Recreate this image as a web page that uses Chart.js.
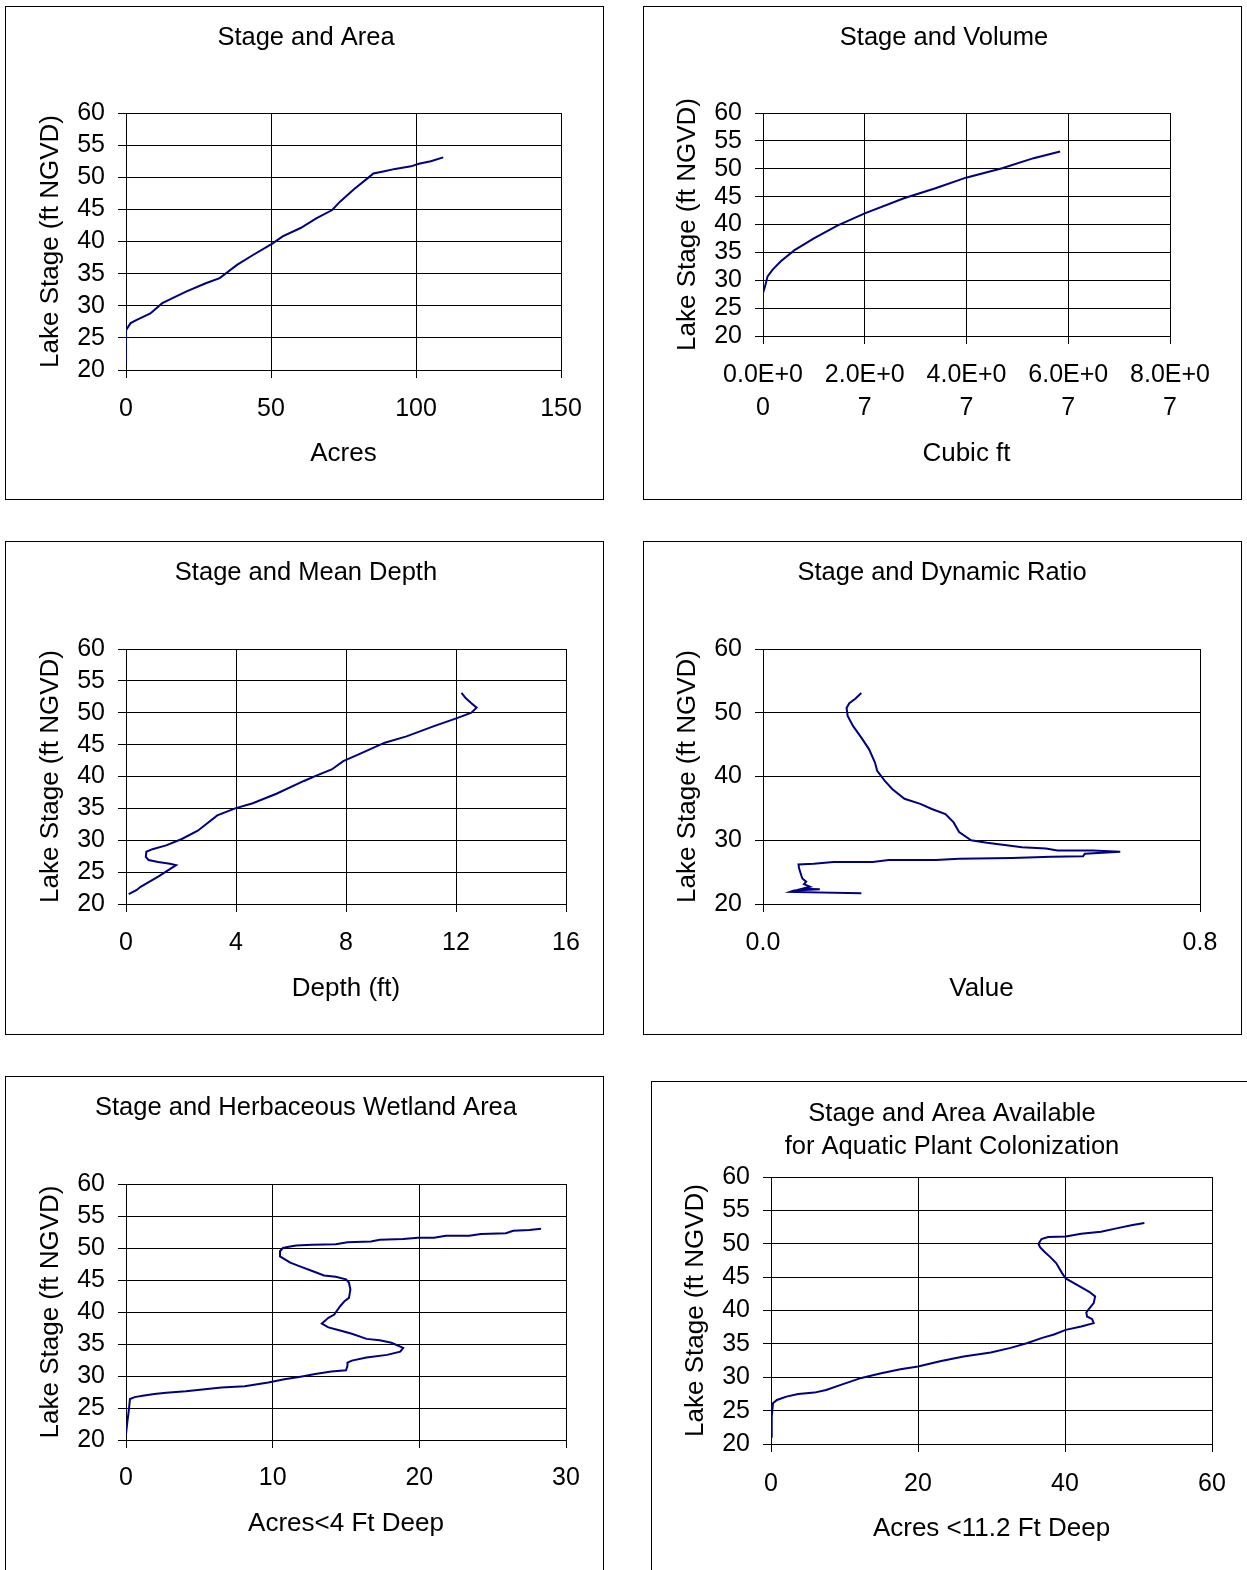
<!DOCTYPE html>
<html>
<head>
<meta charset="utf-8">
<title>Lake Stage Charts</title>
<script src="https://cdn.jsdelivr.net/npm/chart.js@4.4.1/dist/chart.umd.min.js"></script>
<style>
    html, body { margin: 0; padding: 0; background: #fff; overflow: hidden; }
    body { position: relative; width: 1247px; height: 1570px; }
    .panel { position: absolute; box-sizing: border-box; border: 1px solid #000; }
    canvas { position: absolute; }
</style>
</head>
<body>
<div class="panel" id="b1"></div><canvas id="c1"></canvas>
<div class="panel" id="b2"></div><canvas id="c2"></canvas>
<div class="panel" id="b3"></div><canvas id="c3"></canvas>
<div class="panel" id="b4"></div><canvas id="c4"></canvas>
<div class="panel" id="b5"></div><canvas id="c5"></canvas>
<div class="panel" id="b6"></div><canvas id="c6"></canvas>
<script>
// ───────── data ─────────

// Stage and Area
const areaStage = [21.0, 26.2, 27.3, 27.8, 28.8, 30.4, 32.2, 33.5, 34.3, 36.4, 37.9, 39.7, 40.8, 42.1, 43.6, 44.9, 46.2, 48.1, 50.1, 50.6, 50.9, 51.3, 51.7, 52.1, 52.5, 53.1];
const areaAcres = [0, 0, 1.6, 3.7, 8.4, 12.5, 20.7, 27.5, 32.3, 38.4, 43.8, 50.6, 54.0, 60.2, 65.6, 71.1, 73.8, 78.5, 84.0, 85.3, 88.7, 92.8, 98.3, 101.0, 105.1, 109.4];

// Stage and Volume
const volumeStage = [21.1, 27.7, 28.9, 30.7, 31.9, 33.4, 35.4, 37.5, 39.8, 42.0, 44.7, 46.5, 48.4, 50.1, 51.9, 53.1];
const volumeCuft = [0, 0, 4.0e5, 9.0e5, 1.9e6, 3.5e6, 6.2e6, 1.0e7, 1.46e7, 2.0e7, 2.77e7, 3.39e7, 3.99e7, 4.70e7, 5.32e7, 5.84e7];

// Stage and Mean Depth
const depthStage = [21.55, 22.2, 22.7, 24.3, 26.1, 26.3, 26.6, 26.9, 27.4, 28.2, 28.6, 29.2, 30.2, 31.5, 33.9, 35.0, 35.8, 37.3, 39.3, 40.1, 41.1, 42.4, 43.5, 45.3, 46.3, 47.9, 49.2, 50.0, 50.8, 51.5, 52.3, 53.1];
const depthFt = [0.1, 0.39, 0.53, 1.17, 1.82, 1.6, 1.17, 0.82, 0.72, 0.74, 0.96, 1.46, 2.03, 2.61, 3.32, 3.97, 4.61, 5.47, 6.47, 6.9, 7.48, 7.9, 8.48, 9.41, 10.2, 11.2, 12.06, 12.56, 12.75, 12.56, 12.35, 12.2];

// Stage and Dynamic Ratio
const ratioStage = [21.7, 21.9, 22.1, 22.3, 22.4, 22.7, 23.1, 23.5, 24.0, 24.5, 25.6, 26.2, 26.3, 26.6, 26.6, 26.9, 26.9, 27.1, 27.2, 27.4, 27.5, 27.9, 28.2, 28.4, 28.4, 28.7, 28.9, 29.2, 29.6, 30.0, 31.3, 32.8, 34.1, 34.9, 35.7, 36.5, 38.0, 39.3, 40.9, 42.2, 44.3, 46.1, 47.9, 49.5, 50.75, 51.5, 52.2, 53.1];
const ratioValue = [0.18, 0.05, 0.057, 0.104, 0.072, 0.086, 0.075, 0.079, 0.072, 0.07, 0.066, 0.065, 0.093, 0.129, 0.201, 0.23, 0.316, 0.359, 0.456, 0.528, 0.586, 0.589, 0.654, 0.604, 0.539, 0.518, 0.474, 0.446, 0.410, 0.381, 0.359, 0.349, 0.334, 0.309, 0.288, 0.259, 0.237, 0.223, 0.209, 0.205, 0.194, 0.18, 0.165, 0.155, 0.153, 0.158, 0.169, 0.18];

// Stage and Herbaceous Wetland Area
const herbStage = [20.9, 23.0, 24.6, 26.4, 26.7, 26.9, 27.2, 27.4, 27.6, 27.8, 28.2, 28.4, 29.0, 29.5, 29.9, 30.3, 30.7, 30.9, 31.6, 32.1, 32.4, 32.9, 33.3, 33.8, 34.4, 35.2, 35.6, 35.8, 36.6, 37.1, 37.6, 38.2, 39.1, 39.6, 40.9, 41.7, 42.2, 43.5, 44.6, 45.1, 45.5, 45.7, 46.4, 47.1, 47.7, 48.7, 49.5, 50.0, 50.2, 50.4, 50.5, 50.6, 50.9, 51.0, 51.3, 51.4, 51.6, 51.6, 51.9, 51.9, 52.2, 52.3, 52.7, 52.8, 53.0];
const herbAcres = [0, 0.1, 0.19, 0.27, 0.59, 1.13, 1.93, 2.74, 4.08, 4.89, 6.5, 8.1, 9.7, 10.8, 11.9, 12.9, 14.0, 15.0, 15.1, 15.1, 15.4, 16.4, 17.8, 18.7, 18.9, 18.1, 17.3, 16.4, 15.4, 14.6, 13.8, 13.35, 13.8, 14.2, 14.6, 14.9, 15.2, 15.3, 15.2, 15.0, 14.3, 13.5, 12.7, 11.9, 11.2, 10.5, 10.5, 10.7, 11.1, 11.6, 12.7, 14.3, 15.1, 16.7, 17.3, 18.9, 19.9, 21.0, 21.8, 23.4, 24.2, 25.9, 26.4, 27.5, 28.3];

// Stage and Area Available for Aquatic Plant Colonization
const plantStage = [21.1, 24.1, 26.1, 26.6, 27.1, 27.5, 27.7, 28.1, 28.9, 29.9, 30.6, 31.2, 31.6, 32.4, 33.1, 33.7, 34.4, 35.1, 35.9, 36.4, 37.1, 37.6, 38.1, 38.7, 39.1, 39.7, 40.3, 41.1, 42.1, 42.8, 43.8, 44.8, 45.6, 47.1, 48.0, 48.8, 49.5, 50.0, 50.7, 51.0, 51.1, 51.5, 51.8, 52.3, 52.8, 53.1];
const plantAcres = [0, 0.1, 0.27, 0.8, 2.1, 3.7, 5.9, 7.5, 9.6, 12.3, 15.0, 17.6, 20.0, 23.0, 26.2, 29.9, 32.6, 34.8, 36.9, 38.5, 40.1, 42.2, 43.9, 43.7, 43.0, 42.9, 43.3, 43.9, 44.1, 43.3, 41.7, 40.1, 39.6, 38.8, 38.0, 37.2, 36.6, 36.4, 36.8, 37.7, 40.1, 42.2, 44.9, 47.0, 49.2, 50.8];

const yAxisTitle = 'Lake Stage (ft NGVD)';

// ───────── drawing ─────────

const FONT = '"Liberation Sans", Arial, sans-serif';
const LINE_COLOR = '#000080';
const TICK_SIZE = 25;
const TITLE_SIZE = 26;

// chart title drawn inside the panel
const panelTitle = {
    id: 'panelTitle',
    afterDraw(chart, args, opts) {
        const ctx = chart.ctx;
        ctx.save();
        ctx.font = '25.5px ' + FONT;
        ctx.fillStyle = '#000';
        ctx.textAlign = 'center';
        ctx.textBaseline = 'middle';
        opts.lines.forEach((t, i) => ctx.fillText(t, opts.x, opts.y + 2 + i * 33));
        ctx.restore();
    }
};

// 2.0E+07 style, wrapped on two lines like the spreadsheet
function sciLabel(v) {
    if (v === 0) return ['0.0E+0', '0'];
    const e = Math.floor(Math.log10(v) + 1e-9);
    const s = (v / Math.pow(10, e)).toFixed(1) + 'E+' + String(e).padStart(2, '0');
    return [s.slice(0, 6), s.slice(6)];
}

function stageChart(n, s) {
    const box = s.box, plot = s.plot;
    const panel = document.getElementById('b' + n);
    Object.assign(panel.style, { left: box.x + 'px', top: box.y + 'px', width: box.w + 'px', height: box.h + 'px' });
    const cv = document.getElementById('c' + n);
    cv.width = box.w; cv.height = box.h;
    Object.assign(cv.style, { left: box.x + 'px', top: box.y + 'px', width: box.w + 'px', height: box.h + 'px' });

    const tickLh = s.tickLh || 1.2;
    const xPad = s.xTickY + 2 - plot.b - 8 - TICK_SIZE * tickLh / 2;
    const titleHalf = TITLE_SIZE * 1.2 / 2;

    new Chart(cv.getContext('2d'), {
        type: 'scatter',
        data: {
            datasets: [{
                data: s.xs.map((x, i) => ({ x: x, y: s.ys[i] })),
                showLine: true,
                borderColor: LINE_COLOR,
                borderWidth: 2,
                pointRadius: 0,
                tension: 0
            }]
        },
        plugins: [panelTitle],
        options: {
            responsive: false,
            devicePixelRatio: 1,
            animation: false,
            layout: { padding: { top: plot.t - box.y, right: box.x + box.w - plot.r, left: 0, bottom: 0 } },
            plugins: {
                legend: { display: false },
                tooltip: { enabled: false },
                panelTitle: { lines: s.title, x: s.titleX - box.x, y: s.titleY - box.y }
            },
            scales: {
                x: {
                    type: 'linear', min: s.xMin, max: s.xMax,
                    ticks: {
                        stepSize: s.xStep, autoSkip: false, maxRotation: 0, padding: xPad, color: '#000',
                        font: { family: FONT, size: TICK_SIZE, lineHeight: tickLh },
                        callback: s.xFmt || (v => v)
                    },
                    grid: { color: '#000', lineWidth: 1, tickLength: 8 },
                    border: { color: '#000', width: 1 },
                    title: {
                        display: true, text: s.xTitle, color: '#000',
                        font: { family: FONT, size: TITLE_SIZE },
                        padding: { top: 0, bottom: box.y + box.h - s.xTitleY - titleHalf - 2 }
                    },
                    afterFit: sc => { sc.height = box.y + box.h - plot.b; }
                },
                y: {
                    type: 'linear', min: 20, max: 60,
                    ticks: {
                        stepSize: s.yStep, autoSkip: false, padding: 13, color: '#000',
                        font: { family: FONT, size: TICK_SIZE }
                    },
                    grid: { color: '#000', lineWidth: 1, tickLength: 8 },
                    border: { color: '#000', width: 1 },
                    title: {
                        display: true, text: yAxisTitle, color: '#000',
                        font: { family: FONT, size: TITLE_SIZE },
                        padding: { top: s.yTitleX - box.x - titleHalf + 1, bottom: 0 }
                    },
                    afterFit: sc => { sc.width = plot.l - box.x; }
                }
            }
        }
    });
}

document.addEventListener('DOMContentLoaded', () => {
    stageChart(1, {
        box: { x: 5, y: 6, w: 599, h: 494 }, plot: { l: 126, t: 113, r: 561, b: 370 },
        title: ['Stage and Area'], titleX: 306, titleY: 36,
        xs: areaAcres, ys: areaStage, xMin: 0, xMax: 150, xStep: 50, yStep: 5,
        xTitle: 'Acres', xTitleY: 452, xTickY: 407, yTitleX: 50
    });
    stageChart(2, {
        box: { x: 643, y: 6, w: 599, h: 494 }, plot: { l: 763, t: 113, r: 1170, b: 336 },
        title: ['Stage and Volume'], titleX: 944, titleY: 36,
        xs: volumeCuft, ys: volumeStage, xMin: 0, xMax: 8e7, xStep: 2e7, yStep: 5,
        xFmt: sciLabel, tickLh: 1.32,
        xTitle: 'Cubic ft', xTitleY: 452, xTickY: 373, yTitleX: 687
    });
    stageChart(3, {
        box: { x: 5, y: 541, w: 599, h: 494 }, plot: { l: 126, t: 649, r: 566, b: 904 },
        title: ['Stage and Mean Depth'], titleX: 306, titleY: 571,
        xs: depthFt, ys: depthStage, xMin: 0, xMax: 16, xStep: 4, yStep: 5,
        xTitle: 'Depth (ft)', xTitleY: 987, xTickY: 941, yTitleX: 50
    });
    stageChart(4, {
        box: { x: 643, y: 541, w: 599, h: 494 }, plot: { l: 763, t: 649, r: 1200, b: 904 },
        title: ['Stage and Dynamic Ratio'], titleX: 942, titleY: 571,
        xs: ratioValue, ys: ratioStage, xMin: 0, xMax: 0.8, xStep: 0.8, yStep: 10,
        xFmt: v => v.toFixed(1),
        xTitle: 'Value', xTitleY: 987, xTickY: 941, yTitleX: 687
    });
    stageChart(5, {
        box: { x: 5, y: 1076, w: 599, h: 510 }, plot: { l: 126, t: 1184, r: 566, b: 1440 },
        title: ['Stage and Herbaceous Wetland Area'], titleX: 306, titleY: 1106,
        xs: herbAcres, ys: herbStage, xMin: 0, xMax: 30, xStep: 10, yStep: 5,
        xTitle: 'Acres<4 Ft Deep', xTitleY: 1522, xTickY: 1476, yTitleX: 50
    });
    stageChart(6, {
        box: { x: 651, y: 1081, w: 607, h: 510 }, plot: { l: 771, t: 1177, r: 1212, b: 1444 },
        title: ['Stage and Area Available', 'for Aquatic Plant Colonization'], titleX: 952, titleY: 1112,
        xs: plantAcres, ys: plantStage, xMin: 0, xMax: 60, xStep: 20, yStep: 5,
        xTitle: 'Acres <11.2 Ft Deep', xTitleY: 1527, xTickY: 1482, yTitleX: 695
    });
});
</script>
</body>
</html>
